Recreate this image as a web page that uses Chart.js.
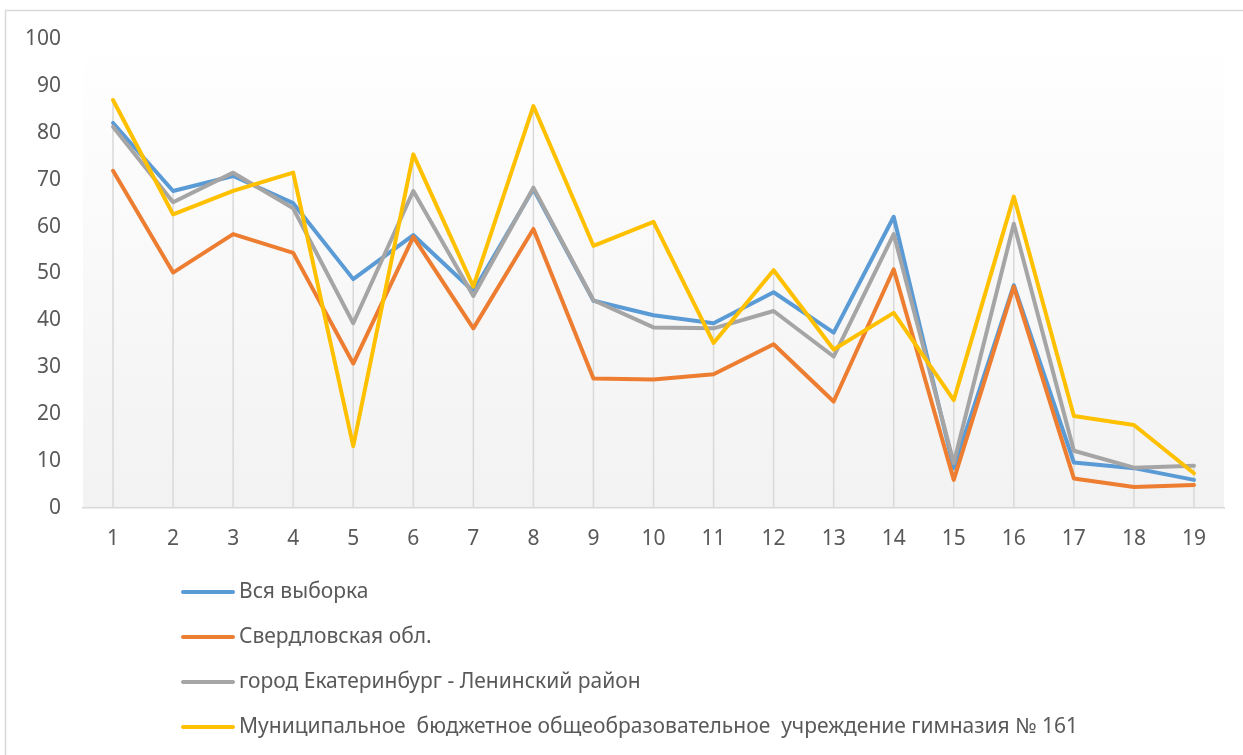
<!DOCTYPE html>
<html><head><meta charset="utf-8">
<script src="https://cdn.jsdelivr.net/npm/chart.js@4"></script>
<style>html,body{margin:0;padding:0;background:#fff}#wrap{width:1243px;height:755px;position:relative}</style>
</head><body><div id="wrap"><canvas id="c" width="1243" height="755"></canvas></div>
<script>
const categories = ['1','2','3','4','5','6','7','8','9','10','11','12','13','14','15','16','17','18','19'];
const seriesNames = ['Вся выборка','Свердловская обл.','город Екатеринбург - Ленинский район','Муниципальное  бюджетное общеобразовательное  учреждение гимназия № 161'];
const vsyaVyborka   = [82.1, 67.6, 70.8, 65.0, 48.8, 58.2, 46.2, 68.0, 44.2, 41.1, 39.4, 46.0, 37.4, 62.1, 8.5, 47.5, 9.7, 8.5, 6.0];
const sverdlovskaya = [71.9, 50.2, 58.4, 54.4, 30.8, 57.8, 38.3, 59.5, 27.6, 27.4, 28.5, 34.9, 22.7, 50.9, 6.0, 47.2, 6.3, 4.5, 4.9];
const leninsky      = [81.3, 65.2, 71.5, 63.9, 39.4, 67.6, 45.2, 68.3, 44.3, 38.5, 38.3, 42.0, 32.3, 58.4, 9.6, 60.6, 12.2, 8.6, 9.0];
const gimnaziya161  = [87.0, 62.6, 67.6, 71.5, 13.2, 75.4, 47.2, 85.7, 55.9, 61.0, 35.2, 50.7, 33.8, 41.6, 23.0, 66.4, 19.6, 17.7, 7.4];
const yTicks = [0,10,20,30,40,50,60,70,80,90,100];
const colors = ['#5B9BD5','#ED7D31','#A5A5A5','#FFC000'];
const seriesValues = [vsyaVyborka, sverdlovskaya, leninsky, gimnaziya161];

const FONT = '"Noto Sans", sans-serif';
const TXT = '#595959';

const framePlugin = {
  id: 'frame',
  beforeDraw(chart) {
    const ctx = chart.ctx, a = chart.chartArea;
    ctx.save();
    ctx.fillStyle = '#fff';
    ctx.fillRect(0, 0, chart.width, chart.height);
    ctx.strokeStyle = '#d9d9d9';
    ctx.lineWidth = 1.5;
    ctx.strokeRect(5.5, 10.5, chart.width + 20, chart.height + 20);
    const g = ctx.createLinearGradient(0, a.top, 0, a.bottom);
    g.addColorStop(0, '#ffffff');
    g.addColorStop(1, '#f2f2f2');
    ctx.fillStyle = g;
    ctx.fillRect(a.left, a.top, a.right - a.left, a.bottom - a.top);
    ctx.restore();
  },
  beforeDatasetsDraw(chart) {
    const ctx = chart.ctx, xs = chart.scales.x, ys = chart.scales.y;
    ctx.save();
    ctx.strokeStyle = '#d9d9d9';
    ctx.lineWidth = 1.5;
    categories.forEach((c, i) => {
      const mx = Math.max(...seriesValues.map(s => s[i]));
      const x = xs.getPixelForValue(i);
      ctx.beginPath();
      ctx.moveTo(x, ys.getPixelForValue(0));
      ctx.lineTo(x, ys.getPixelForValue(mx));
      ctx.stroke();
    });
    ctx.restore();
  },
  afterDraw(chart) {
    const ctx = chart.ctx;
    ctx.save();
    ctx.font = '21px ' + FONT;
    ctx.textBaseline = 'middle';
    chart.data.datasets.forEach((ds, i) => {
      const y = 592 + i * 45;
      ctx.strokeStyle = ds.borderColor;
      ctx.lineWidth = 4;
      ctx.lineCap = 'round';
      ctx.beginPath();
      ctx.moveTo(183, y);
      ctx.lineTo(233, y);
      ctx.stroke();
      ctx.fillStyle = TXT;
      ctx.fillText(ds.label, 239, y);
    });
    ctx.restore();
  }
};

new Chart(document.getElementById('c'), {
  type: 'line',
  data: {
    labels: categories,
    datasets: seriesNames.map((n, i) => ({
      label: n,
      data: seriesValues[i],
      borderColor: colors[i],
      backgroundColor: colors[i],
      borderWidth: 4,
      pointRadius: 0,
      tension: 0,
      fill: false,
      borderJoinStyle: 'round',
      borderCapStyle: 'round',
      order: 4 - i
    }))
  },
  options: {
    responsive: false,
    animation: false,
    devicePixelRatio: 1,
    layout: { padding: { top: 39, right: 19, left: 0, bottom: 0 } },
    plugins: { legend: { display: false }, tooltip: { enabled: false } },
    scales: {
      x: {
        offset: true,
        grid: { display: false, drawTicks: false },
        border: { display: true, color: '#d9d9d9', width: 1.5 },
        ticks: { color: TXT, font: { family: FONT, size: 21 }, padding: 18, maxRotation: 0, autoSkip: false },
        afterFit(s) { s.height = 247; }
      },
      y: {
        min: 0, max: 100,
        afterBuildTicks(s) { s.ticks = yTicks.map(v => ({ value: v })); },
        grid: { display: false, drawTicks: false },
        border: { display: false },
        ticks: { color: TXT, font: { family: FONT, size: 21 }, padding: 22 },
        afterFit(s) { s.width = 83; }
      }
    }
  },
  plugins: [framePlugin]
});
</script>
</body></html>
